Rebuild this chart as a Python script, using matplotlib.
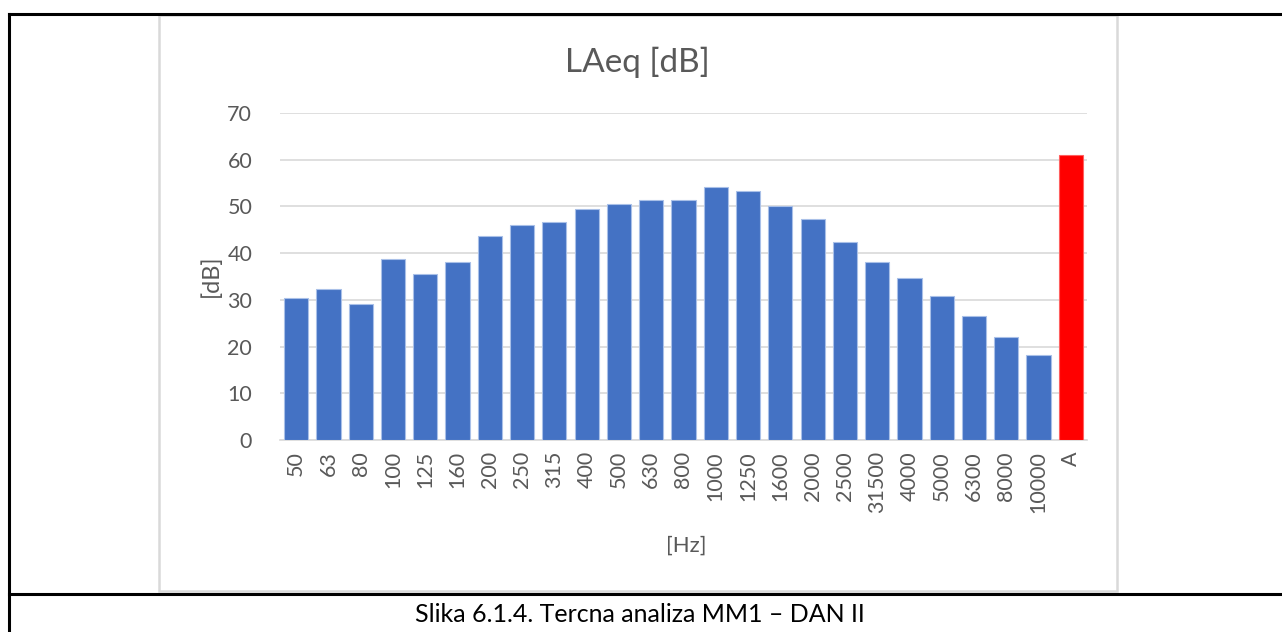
import matplotlib
matplotlib.use('Agg')
import matplotlib.pyplot as plt

plt.rcParams['font.family'] = ['Lato', 'DejaVu Sans']

# third-octave band levels
bands = ['50', '63', '80', '100', '125', '160', '200', '250', '315', '400',
         '500', '630', '800', '1000', '1250', '1600', '2000', '2500', '31500',
         '4000', '5000', '6300', '8000', '10000', 'A']
levels = [30.5, 32.4, 29.1, 38.8, 35.5, 38.2, 43.6, 46.1, 46.7, 49.4,
          50.6, 51.4, 51.4, 54.1, 53.3, 50.0, 47.3, 42.4, 38.1,
          34.6, 30.8, 26.6, 22.0, 18.1, 61.0]
yticks = [0, 10, 20, 30, 40, 50, 60, 70]

title = 'LAeq [dB]'
xlabel = '[Hz]'
ylabel = '[dB]'
caption = 'Slika 6.1.4. Tercna analiza MM1 \u2013 DAN II'

BLUE = '#4472C4'
RED = '#FF0000'
GREY_TXT = '#595959'
GRID = '#D9D9D9'

W, H = 1282, 632
fig = plt.figure(figsize=(W / 100, H / 100), dpi=100)

# background layer in pixel coords for the table lines and chart frame
bg = fig.add_axes([0, 0, 1, 1])
bg.set_xlim(0, W)
bg.set_ylim(H, 0)
bg.axis('off')
bg.plot([9, W], [13.5, 13.5], color='black', lw=2.2)
bg.plot([9, 9], [13.5, H], color='black', lw=2.2)
bg.plot([9, W], [594, 594], color='black', lw=2.2)
bg.add_patch(plt.Rectangle((159, 15), 958, 576, fill=False, edgecolor=GRID, lw=1.8))
bg.text(640, 615, caption, ha='center', va='center', fontsize=18, color='black')

# chart area
left, right, bottom, top = 280, 1087, 440, 113
ax = fig.add_axes([left / W, 1 - bottom / H, (right - left) / W, (bottom - top) / H])
x = list(range(len(bands)))
colors = [BLUE] * (len(bands) - 1) + [RED]
edges = ['#A9C0E8'] * (len(bands) - 1) + ['#FF6060']
ax.bar(x, levels, width=0.75, color=colors, edgecolor=edges, linewidth=0.8, zorder=3)

ax.set_xlim(-0.5, len(bands) - 0.5)
ax.set_ylim(0, 70)
ax.set_yticks(yticks)
ax.set_xticks(x)
ax.set_xticklabels(bands, rotation=90)
ax.tick_params(axis='both', length=0, labelsize=15.5, labelcolor=GREY_TXT)
ax.tick_params(axis='y', pad=20)
ax.tick_params(axis='x', pad=8)
ax.grid(axis='y', color=GRID, lw=1.2, zorder=0)
for side in ['top', 'right', 'left']:
    ax.spines[side].set_visible(False)
ax.spines['bottom'].set_color(GRID)
ax.spines['bottom'].set_linewidth(1.2)

bg.text(211, 276, ylabel, ha='center', va='center', rotation=90, fontsize=17, color=GREY_TXT)
bg.text(686, 546, xlabel, ha='center', va='center', fontsize=16, color=GREY_TXT)
bg.text(637, 62, title, ha='center', va='center', fontsize=24, color=GREY_TXT)

fig.savefig('out.png', dpi=100)
